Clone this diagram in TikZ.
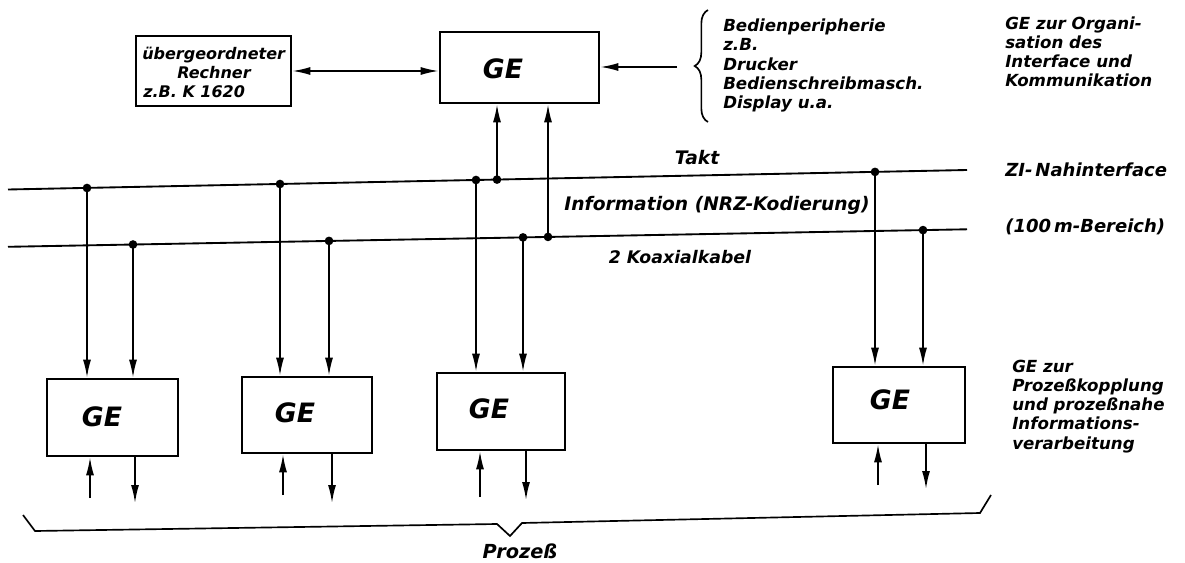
\documentclass[tikz,border=0pt]{standalone}
\usepackage{fontspec}
\setmainfont{DejaVu Sans}
\usetikzlibrary{arrows.meta,decorations.pathreplacing,fit}
\begin{document}
\begin{tikzpicture}[x=0.75pt,y=-0.75pt,
  box/.style={draw, line width=2pt, inner sep=0pt},
  wire/.style={line width=1.25pt},
  bus/.style={line width=1.4pt},
  arr/.style={wire, -{Latex[length=13.5pt,width=6pt]}},
  darr/.style={wire, {Latex[length=13.5pt,width=6pt]}-{Latex[length=13.5pt,width=6pt]}},
  dot/.style={circle, fill, inner sep=0pt, minimum size=6.5pt},
  side/.style={inner sep=0pt, align=left, font=\bfseries\itshape\fontsize{12.5pt}{14.3pt}\selectfont},
  buslbl/.style={inner sep=0pt, font=\bfseries\itshape\fontsize{14pt}{16pt}\selectfont},
  gelbl/.style={inner sep=0pt, font=\bfseries\itshape\fontsize{20pt}{22pt}\selectfont},
  boxtxt/.style={inner sep=0pt, font=\bfseries\itshape\fontsize{12pt}{13.9pt}\selectfont},
]
\useasboundingbox (0,0) rectangle (1185,563);

% ---------- top row ----------
\node[box, fit={(136,36) (291,106)}] (rech) {};
\node[boxtxt, anchor=west] (rt1) at (142,55) {übergeordneter};
\node[boxtxt, anchor=west] (rt2) at (177,73) {Rechner};
\node[boxtxt, anchor=west] (rt3) at (143,92) {z.B. K 1620};

\node[box, fit={(440,32) (599,103)}] (geo) {};
\node[gelbl] (geot) at (503,69) {GE};

\draw[darr] (rech.east) -- (rech.east -| geo.west);

\coordinate (bin) at (677,67);
\draw[arr] (bin) -- (bin -| geo.east);
\draw[wire, decorate, decoration={brace, amplitude=10pt}] (708,122) -- (708,10);
\node[side, anchor=west] (periph) at (723,65.5)
  {Bedienperipherie\\z.B.\\Drucker\\Bedienschreibmasch.\\Display u.a.};

\node[side, anchor=west] (orga) at (1005,51.5)
  {GE zur Organi-\\sation des\\Interface und\\Kommunikation};

% ---------- bus lines ----------
\coordinate (TL) at (8,189.5);
\coordinate (TR) at (967,170);
\coordinate (IL) at (8,246.8);
\coordinate (IR) at (967,229.3);
\draw[bus] (TL) -- (TR);
\draw[bus] (IL) -- (IR);

\node[buslbl] (takt) at (697,158) {Takt};
\node[buslbl] (info) at (717,205) {Information (NRZ-Kodierung)};
\node[buslbl, font=\bfseries\itshape\fontsize{13pt}{15pt}\selectfont] (koax) at (680,257) {2 Koaxialkabel};
\node[buslbl, font=\bfseries\itshape\fontsize{13.5pt}{15pt}\selectfont, anchor=west] (zi) at (1005,170) {ZI-\,Nahinterface};
\node[buslbl, font=\bfseries\itshape\fontsize{13.5pt}{15pt}\selectfont, anchor=west] (bereich) at (1005,227) {(100\,m-Bereich)};

% bus taps
\node[dot] (t1) at (87,188) {};
\node[dot] (t2) at (280,184) {};
\node[dot] (t3) at (476,180) {};
\node[dot] (tg) at (497,179.6) {};
\node[dot] (t4) at (875,171.9) {};
\node[dot] (i1) at (133,244.5) {};
\node[dot] (i2) at (329,240.9) {};
\node[dot] (i3) at (523,237.4) {};
\node[dot] (ig) at (548,236.9) {};
\node[dot] (i4) at (923,230.1) {};

\draw[arr] (tg.center) -- (tg |- geo.south);
\draw[arr] (ig.center) -- (ig |- geo.south);

% ---------- lower GE units ----------
\node[box, fit={(47,379) (178,456)}] (b1) {};
\node[box, fit={(242,377) (372,453)}] (b2) {};
\node[box, fit={(437,373) (565,450)}] (b3) {};
\node[box, fit={(833,367) (965,443)}] (b4) {};
\node[gelbl] (g1) at (102,417) {GE};
\node[gelbl] (g2) at (295,413) {GE};
\node[gelbl] (g3) at (489,409) {GE};
\node[gelbl] (g4) at (890,400) {GE};

\draw[arr] (t1.center) -- (t1 |- b1.north);
\draw[arr] (i1.center) -- (i1 |- b1.north);
\draw[arr] (t2.center) -- (t2 |- b2.north);
\draw[arr] (i2.center) -- (i2 |- b2.north);
\draw[arr] (t3.center) -- (t3 |- b3.north);
\draw[arr] (i3.center) -- (i3 |- b3.north);
\draw[arr] (t4.center) -- (t4 |- b4.north);
\draw[arr] (i4.center) -- (i4 |- b4.north);

% process inputs / outputs
\coordinate (p1u) at (90,498);  \coordinate (p1d) at (135,503);
\coordinate (p2u) at (283,495); \coordinate (p2d) at (332,503);
\coordinate (p3u) at (480,497); \coordinate (p3d) at (526,500);
\coordinate (p4u) at (878,485); \coordinate (p4d) at (926,489);
\draw[arr] (p1u) -- (p1u |- b1.south);
\draw[arr] (p1d |- b1.south) -- (p1d);
\draw[arr] (p2u) -- (p2u |- b2.south);
\draw[arr] (p2d |- b2.south) -- (p2d);
\draw[arr] (p3u) -- (p3u |- b3.south);
\draw[arr] (p3d |- b3.south) -- (p3d);
\draw[arr] (p4u) -- (p4u |- b4.south);
\draw[arr] (p4d |- b4.south) -- (p4d);

\node[side, anchor=west] (proz) at (1012,406.5)
  {GE zur\\Prozeßkopplung\\und prozeßnahe\\Informations-\\verarbeitung};

% bottom brace
\draw[wire] (23,515) -- (35,531) -- (497,524) -- (510,536) -- (522,523) -- (980,513) -- (991,495);
\node[buslbl, font=\bfseries\itshape\fontsize{14.5pt}{16pt}\selectfont] (prozess) at (520,551) {Prozeß};
\end{tikzpicture}
\end{document}
